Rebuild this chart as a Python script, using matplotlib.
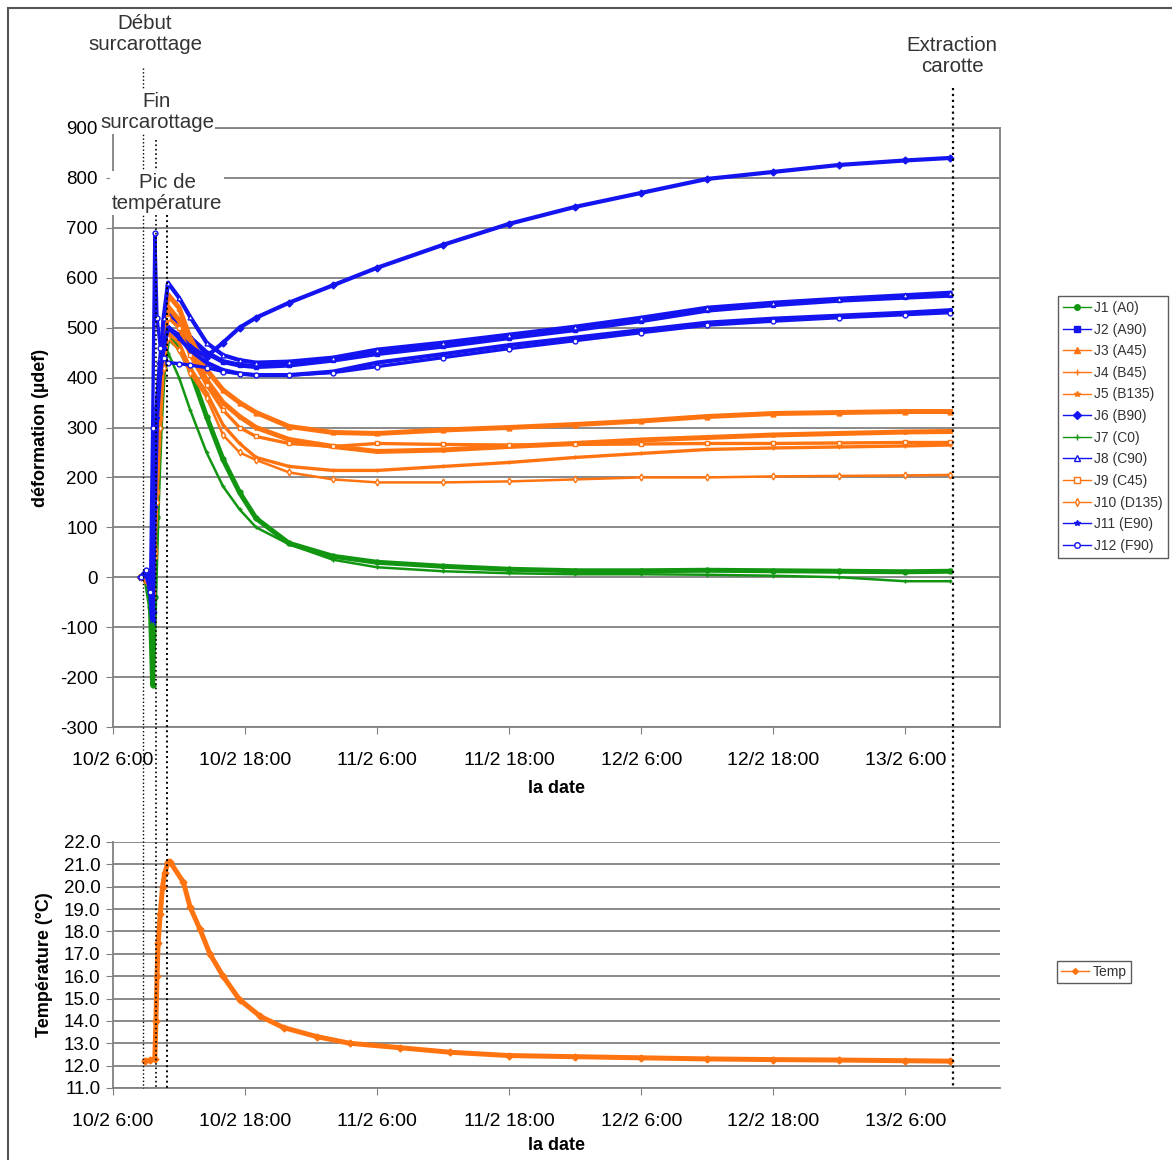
import matplotlib
matplotlib.use("Agg")
import matplotlib.pyplot as plt
import matplotlib.transforms as mtransforms
from matplotlib.lines import Line2D
from matplotlib.patches import Rectangle

plt.rcParams['font.family'] = ['Liberation Sans', 'DejaVu Sans']
plt.rcParams['axes.unicode_minus'] = False


# DATA (time in hours since 10/2 6:00)

hours = [2.5, 3.0, 3.4, 3.6, 3.8, 4.0, 4.3, 4.6, 5.0, 6, 7, 8.5, 10, 11.5, 13,
         16, 20, 24, 30, 36, 42, 48, 54, 60, 66, 72, 76.1]

j1 = [0, -5, -60, -215, -40, 120, 300, 420, 480, 460, 416, 322, 236, 170, 118,
      68, 42, 30, 22, 16, 13, 13, 14, 13, 12, 11, 12]
j2 = [0, 10, -25, -90, 150, 330, 420, 470, 530, 510, 480, 450, 432, 425, 422,
      425, 435, 448, 463, 480, 496, 514, 535, 546, 555, 561, 565]
j3 = [0, -5, -20, -40, 60, 200, 350, 480, 566, 540, 480, 416, 375, 350, 330,
      302, 290, 288, 295, 300, 306, 313, 322, 328, 330, 332, 332]
j4 = [0, -3, -15, -30, 40, 160, 300, 420, 490, 470, 420, 370, 305, 268, 240,
      222, 214, 214, 222, 230, 240, 248, 256, 259, 261, 263, 265]
j5 = [0, -5, -20, -35, 60, 190, 340, 460, 542, 515, 460, 395, 350, 322, 300,
      276, 262, 252, 255, 262, 268, 275, 280, 285, 288, 291, 292]
j6 = [0, 5, -20, -70, 160, 340, 430, 470, 500, 485, 462, 442, 470, 500, 520,
      550, 585, 620, 666, 708, 742, 770, 798, 812, 826, 835, 840]
j7 = [0, -3, -30, -120, -20, 100, 280, 400, 450, 400, 336, 250, 182, 136, 100,
      66, 35, 20, 12, 8, 6, 6, 5, 3, 0, -8, -8]
j8 = [0, 10, -20, -80, 170, 350, 440, 520, 590, 560, 522, 470, 445, 435, 430,
      432, 440, 456, 470, 486, 502, 520, 540, 550, 558, 565, 570]
j9 = [0, -5, -15, -30, 50, 170, 320, 440, 520, 500, 445, 385, 335, 300, 282,
      268, 262, 268, 266, 265, 266, 267, 268, 268, 269, 270, 270]
j10 = [0, -5, -10, -25, 40, 150, 300, 420, 480, 455, 410, 360, 285, 250, 235,
       210, 196, 190, 190, 192, 196, 200, 200, 202, 203, 204, 205]
j11 = [0, 5, -25, -85, 140, 320, 410, 460, 500, 480, 455, 430, 415, 408, 405,
       405, 412, 430, 447, 465, 480, 495, 510, 518, 524, 530, 535]
j12 = [0, 15, -30, 300, 690, 520, 460, 440, 430, 428, 425, 420, 412, 408, 405,
       405, 410, 422, 440, 458, 474, 490, 505, 513, 520, 526, 530]

series_names = ['J1 (A0)', 'J2 (A90)', 'J3 (A45)', 'J4 (B45)', 'J5 (B135)', 'J6 (B90)',
                'J7 (C0)', 'J8 (C90)', 'J9 (C45)', 'J10 (D135)', 'J11 (E90)', 'J12 (F90)']
series_vals = [j1, j2, j3, j4, j5, j6, j7, j8, j9, j10, j11, j12]

temp_hours = [2.9, 3.4, 3.8, 3.9, 4.0, 4.1, 4.3, 4.5, 4.7, 5.0, 5.2, 6.4, 7.0, 7.9,
              8.8, 10.0, 11.5, 13.4, 15.5, 18.5, 21.5, 26.1, 30.6, 36, 42, 48, 54,
              60, 66, 72, 76.1]
temp = [12.2, 12.25, 12.3, 14.0, 16.0, 17.5, 18.8, 20.0, 20.6, 21.1, 21.1, 20.2,
        19.1, 18.1, 17.0, 16.0, 14.95, 14.2, 13.7, 13.3, 13.0, 12.8, 12.6, 12.45,
        12.4, 12.35, 12.3, 12.27, 12.25, 12.22, 12.2]

date_ticks = [0, 12, 24, 36, 48, 60, 72]
date_labels = ['10/2 6:00', '10/2 18:00', '11/2 6:00', '11/2 18:00',
               '12/2 6:00', '12/2 18:00', '13/2 6:00']

event_hours = [2.73, 3.9, 4.9, 76.3]
event_labels = ['Début\nsurcarottage', 'Fin\nsurcarottage', 'Pic de\ntempérature',
                'Extraction\ncarotte']


# STYLES

GREEN = '#129612'
BLUE = '#1414F0'
ORANGE = '#FF7410'

styles = [
    dict(color=GREEN, marker='o', mfc=GREEN, lw=3.6),
    dict(color=BLUE, marker='s', mfc=BLUE, lw=3.6),
    dict(color=ORANGE, marker='^', mfc=ORANGE, lw=3.6),
    dict(color=ORANGE, marker='+', mfc=ORANGE, lw=2.4),
    dict(color=ORANGE, marker='*', mfc=ORANGE, lw=3.6),
    dict(color=BLUE, marker='D', mfc=BLUE, lw=3.0),
    dict(color=GREEN, marker='+', mfc=GREEN, lw=1.8),
    dict(color=BLUE, marker='^', mfc='white', lw=3.0),
    dict(color=ORANGE, marker='s', mfc='white', lw=2.4),
    dict(color=ORANGE, marker='d', mfc='white', lw=1.8),
    dict(color=BLUE, marker='*', mfc=BLUE, lw=3.0),
    dict(color=BLUE, marker='o', mfc='white', lw=2.4),
]

W, H = 1172, 1160
fig = plt.figure(figsize=(W / 100, H / 100), dpi=100)

ax1 = fig.add_axes([113 / W, 1 - 727 / H, 887 / W, 599 / H])
ax2 = fig.add_axes([113 / W, 1 - 1088 / H, 887 / W, 246 / H])

# figure frame (left and top edges visible)
fig.patches.append(Rectangle((8 / W, -0.1), 2.0, 1.1 - 8 / H, fill=False,
                             edgecolor='#555555', lw=1.5, transform=fig.transFigure))


# TOP PLOT: strains

for vals, st in zip(series_vals, styles):
    ax1.plot(hours, vals, color=st['color'], lw=st['lw'], marker=st['marker'],
             ms=3.5, mfc=st['mfc'], mec=st['color'], mew=1, zorder=3)

ax1.set_xlim(0, 80.6)
ax1.set_ylim(-300, 900)
ax1.set_yticks(range(-300, 901, 100))
ax1.yaxis.grid(True, color='#808080', lw=1.3)
ax1.set_axisbelow(True)
ax1.set_xticks(date_ticks)
ax1.set_xticklabels(date_labels)
ax1.set_xlabel('la date', fontsize=13, fontweight='bold', labelpad=8)
ax1.set_ylabel('déformation (µdef)', fontsize=13, fontweight='bold', labelpad=8)
for sp in ax1.spines.values():
    sp.set_color('#808080')
    sp.set_linewidth(1.3)
ax1.tick_params(axis='y', direction='out', length=5, color='#808080',
                labelsize=13.5, pad=6)
ax1.tick_params(axis='x', direction='out', length=5, color='#808080',
                labelsize=14, pad=13)

handles = [Line2D([], [], color=st['color'], lw=1, marker=st['marker'], ms=4,
                  mfc=st['mfc'], mec=st['color']) for st in styles]
leg = fig.legend(handles, series_names, loc='upper left',
                 bbox_to_anchor=(1058 / W, 1 - 296 / H), fontsize=10,
                 frameon=True, fancybox=False, edgecolor='#333333',
                 handlelength=2.0, handletextpad=0.25, labelspacing=0.55,
                 borderpad=0.35, borderaxespad=0)
leg.get_frame().set_linewidth(1.0)
for t in leg.get_texts():
    t.set_color('#333333')


# BOTTOM PLOT: temperature

ax2.plot(temp_hours, temp, color=ORANGE, lw=3.6, marker='D', ms=3.5,
         mfc=ORANGE, mec=ORANGE, zorder=3)
ax2.set_xlim(0, 80.6)
ax2.set_ylim(11, 22)
ax2.set_yticks(range(11, 23))
ax2.set_yticklabels([f'{v:.1f}' for v in range(11, 23)])
ax2.yaxis.grid(True, color='#808080', lw=1.3)
ax2.set_axisbelow(True)
ax2.set_xticks(date_ticks)
ax2.set_xticklabels(date_labels)
ax2.set_xlabel('la date', fontsize=13, fontweight='bold', labelpad=5)
ax2.set_ylabel('Température (°C)', fontsize=13, fontweight='bold', labelpad=8)
ax2.spines['top'].set_visible(False)
ax2.spines['right'].set_visible(False)
for sp in ['left', 'bottom']:
    ax2.spines[sp].set_color('#808080')
    ax2.spines[sp].set_linewidth(1.3)
ax2.tick_params(axis='y', direction='out', length=5, color='#808080',
                labelsize=13.5, pad=4)
ax2.tick_params(axis='x', direction='out', length=5, color='#808080',
                labelsize=14, pad=13)

leg2 = fig.legend([Line2D([], [], color=ORANGE, lw=1, marker='D', ms=3,
                          mfc=ORANGE, mec=ORANGE)], ['Temp'], loc='upper left',
                  bbox_to_anchor=(1057 / W, 1 - 961 / H), fontsize=10,
                  frameon=True, fancybox=False, edgecolor='#333333',
                  handlelength=2.0, handletextpad=0.25, borderpad=0.3,
                  borderaxespad=0)
leg2.get_frame().set_linewidth(1.0)
leg2.get_texts()[0].set_color('#333333')


# EVENT MARKERS (dotted lines through both plots + labels)

trans = mtransforms.blended_transform_factory(ax1.transData, fig.transFigure)
line_tops = [68, 140, 215, 88]
line_widths = [1.0, 1.2, 1.4, 1.6]
text_x = [145, 157, 167, 952]
text_y = [34, 112, 193, 56]

for h, top, lw in zip(event_hours, line_tops, line_widths):
    ln = Line2D([h, h], [1 - top / H, 1 - 1088 / H], transform=trans,
                color='black', ls=':', lw=lw, zorder=5)
    fig.lines.append(ln)

for lab, tx, ty in zip(event_labels, text_x, text_y):
    fig.text(tx / W, 1 - ty / H, lab, ha='center', va='center', fontsize=14.8,
             color='#333333', linespacing=1.15, zorder=10,
             bbox=dict(facecolor='white', edgecolor='none', pad=1.0))

fig.savefig('out.png', dpi=100)
